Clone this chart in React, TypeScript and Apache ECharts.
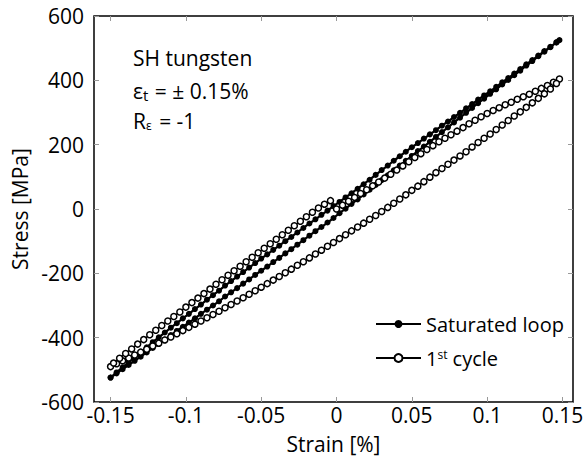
import React, { useEffect, useRef } from "react";
import * as echarts from "echarts";

// Strain [%], Stress [MPa]
const satUpper: number[][] = [
  [-0.150,-524],[-0.146,-508],[-0.142,-492],[-0.138,-476],[-0.134,-460],[-0.130,-445],[-0.126,-430],[-0.122,-414],
  [-0.118,-399],[-0.114,-384],[-0.110,-369],[-0.106,-355],[-0.102,-340],[-0.098,-326],[-0.094,-311],[-0.090,-297],
  [-0.086,-282],[-0.082,-268],[-0.078,-254],[-0.074,-238],[-0.070,-224],[-0.066,-210],[-0.062,-196],[-0.058,-182],
  [-0.054,-168],[-0.050,-154],[-0.046,-141],[-0.042,-127],[-0.038,-114],[-0.034,-100],[-0.030,-87],[-0.026,-73],
  [-0.022,-59],[-0.018,-45],[-0.014,-32],[-0.010,-18],[-0.006,-5],[-0.002,9],[0.002,22],[0.006,36],[0.010,49],
  [0.014,63],[0.018,77],[0.022,91],[0.026,106],[0.030,121],[0.034,135],[0.038,150],[0.042,164],[0.046,178],
  [0.050,192],[0.054,205],[0.058,219],[0.062,232],[0.066,245],[0.070,259],[0.074,272],[0.078,286],[0.082,299],
  [0.086,313],[0.090,326],[0.094,340],[0.098,353],[0.102,366],[0.106,380],[0.110,394],[0.114,407],[0.118,421],
  [0.122,435],[0.126,450],[0.130,463],[0.134,477],[0.138,491],[0.142,504],[0.146,518],[0.148,525],
];
const satLower: number[][] = [
  [0.146,518],[0.142,503],[0.138,489],[0.134,475],[0.130,460],[0.126,446],[0.122,430],[0.118,416],[0.114,401],
  [0.110,387],[0.106,372],[0.102,358],[0.098,343],[0.094,329],[0.090,314],[0.086,299],[0.082,284],[0.078,269],
  [0.074,254],[0.070,239],[0.066,224],[0.062,209],[0.058,194],[0.054,180],[0.050,165],[0.046,150],[0.042,135],
  [0.038,120],[0.034,105],[0.030,90],[0.026,75],[0.022,60],[0.018,45],[0.014,30],[0.010,16],[0.006,1],
  [0.002,-13],[-0.002,-28],[-0.006,-42],[-0.010,-56],[-0.014,-69],[-0.018,-83],[-0.022,-97],[-0.026,-111],
  [-0.030,-125],[-0.034,-138],[-0.038,-152],[-0.042,-165],[-0.046,-179],[-0.050,-192],[-0.054,-205],[-0.058,-219],
  [-0.062,-232],[-0.066,-246],[-0.070,-259],[-0.074,-272],[-0.078,-287],[-0.082,-300],[-0.086,-313],[-0.090,-326],
  [-0.094,-340],[-0.098,-353],[-0.102,-366],[-0.106,-379],[-0.110,-392],[-0.114,-406],[-0.118,-419],[-0.122,-432],
  [-0.126,-446],[-0.130,-459],[-0.134,-472],[-0.138,-485],[-0.142,-498],[-0.146,-511],[-0.150,-524],
];
const cycle1Load: number[][] = [
  [0.000,0],[0.004,12],[0.008,24],[0.012,36],[0.016,48],[0.020,60],[0.024,72],[0.028,84],[0.032,96],[0.036,108],
  [0.040,121],[0.044,134],[0.048,147],[0.052,160],[0.056,172],[0.060,185],[0.064,197],[0.068,209],[0.072,220],
  [0.076,231],[0.080,242],[0.084,253],[0.088,265],[0.092,276],[0.096,287],[0.100,297],[0.104,306],[0.108,315],
  [0.112,324],[0.116,332],[0.120,341],[0.124,349],[0.128,357],[0.132,366],[0.136,375],[0.140,384],[0.144,394],
  [0.148,404],
];
const cycle1Unload: number[][] = [
  [0.146,390],[0.142,373],[0.138,358],[0.134,344],[0.130,330],[0.126,316],[0.122,302],[0.118,289],[0.114,275],
  [0.110,261],[0.106,247],[0.102,233],[0.098,220],[0.094,207],[0.090,193],[0.086,178],[0.082,165],[0.078,152],
  [0.074,139],[0.070,126],[0.066,113],[0.062,99],[0.058,85],[0.054,71],[0.050,58],[0.046,44],[0.042,31],
  [0.038,18],[0.034,5],[0.030,-8],[0.026,-20],[0.022,-32],[0.018,-44],[0.014,-56],[0.010,-68],[0.006,-80],
  [0.002,-92],[-0.002,-104],[-0.006,-116],[-0.010,-128],[-0.014,-140],[-0.018,-152],[-0.022,-164],[-0.026,-175],
  [-0.030,-187],[-0.034,-198],[-0.038,-210],[-0.042,-221],[-0.046,-232],[-0.050,-243],[-0.054,-254],[-0.058,-265],
  [-0.062,-276],[-0.066,-286],[-0.070,-297],[-0.074,-307],[-0.078,-318],[-0.082,-328],[-0.086,-338],[-0.090,-348],
  [-0.094,-358],[-0.098,-368],[-0.102,-378],[-0.106,-388],[-0.110,-398],[-0.114,-407],[-0.118,-417],[-0.122,-426],
  [-0.126,-436],[-0.130,-445],[-0.134,-454],[-0.138,-463],[-0.142,-472],[-0.146,-481],[-0.150,-490],
];
const cycle1Reload: number[][] = [
  [-0.148,-479],[-0.144,-464],[-0.140,-449],[-0.136,-435],[-0.132,-420],[-0.128,-406],[-0.124,-391],[-0.120,-377],
  [-0.116,-362],[-0.112,-348],[-0.108,-334],[-0.104,-320],[-0.100,-305],[-0.096,-291],[-0.092,-277],[-0.088,-263],
  [-0.084,-249],[-0.080,-234],[-0.076,-220],[-0.072,-206],[-0.068,-192],[-0.064,-178],[-0.060,-164],[-0.056,-150],
  [-0.052,-136],[-0.048,-122],[-0.044,-108],[-0.040,-94],[-0.036,-80],[-0.032,-66],[-0.028,-52],[-0.024,-38],
  [-0.020,-24],[-0.016,-10],[-0.012,3],[-0.008,15],[-0.004,26],
];

const xTicks = [-0.15, -0.1, -0.05, 0, 0.05, 0.1, 0.15];
const seriesNames = ["Saturated loop", "1st cycle"];
const FONT = "Open Sans";
const FS = 21;

export default function App() {
  const ref = useRef<HTMLDivElement>(null);
  useEffect(() => {
    if (!ref.current) return;
    const chart = echarts.init(ref.current, undefined, { renderer: "svg" });
    const saturated = [...satUpper, ...satLower];
    const first = [...cycle1Load, ...cycle1Unload, ...cycle1Reload];
    const tickStyle = { color: "#999", width: 1 };
    const xCommon = {
      type: "value",
      min: -0.161,
      max: 0.157,
      axisLine: { show: false, onZero: false },
      splitLine: { show: false },
    };
    const yCommon = {
      type: "value",
      min: -600,
      max: 600,
      interval: 200,
      axisLine: { show: false, onZero: false },
      splitLine: { show: false },
    };
    chart.setOption({
      animation: false,
      backgroundColor: "#fff",
      textStyle: { fontFamily: FONT },
      grid: {
        left: 94, right: 14, top: 16, bottom: 62,
        show: true, borderColor: "#000", borderWidth: 1.5, backgroundColor: "transparent",
      },
      xAxis: [
        {
          ...xCommon,
          position: "bottom",
          axisTick: { show: true, inside: true, length: 5, lineStyle: tickStyle, customValues: xTicks },
          axisLabel: {
            customValues: xTicks, fontSize: FS, color: "#000", margin: 2, fontFamily: FONT,
            formatter: (v: number) => String(v),
          },
          name: "Strain [%]",
          nameLocation: "middle",
          nameGap: 31,
          nameTextStyle: { fontSize: FS, color: "#000", fontFamily: FONT },
        },
        {
          ...xCommon,
          position: "top",
          axisTick: { show: true, inside: true, length: 5, lineStyle: tickStyle, customValues: xTicks },
          axisLabel: { show: false },
        },
      ],
      yAxis: [
        {
          ...yCommon,
          position: "left",
          axisTick: { show: true, inside: true, length: 5, lineStyle: tickStyle },
          axisLabel: { fontSize: FS, color: "#000", margin: 10, fontFamily: FONT },
          name: "Stress [MPa]",
          nameLocation: "middle",
          nameGap: 62,
          nameTextStyle: { fontSize: FS, color: "#000", fontFamily: FONT },
        },
        {
          ...yCommon,
          position: "right",
          axisTick: { show: true, inside: true, length: 5, lineStyle: tickStyle },
          axisLabel: { show: false },
        },
      ],
      legend: {
        orient: "vertical",
        left: 370,
        top: 309,
        itemWidth: 45,
        itemHeight: 10,
        itemGap: 14,
        data: seriesNames,
        formatter: (n: string) => (n === "1st cycle" ? "1{sup|st} cycle" : n),
        textStyle: {
          fontSize: 20,
          color: "#000",
          fontFamily: FONT,
          rich: { sup: { fontSize: 12, verticalAlign: "top", fontFamily: FONT, color: "#000" } },
        },
      },
      graphic: [
        {
          type: "text", left: 133, top: 47,
          style: { text: "SH tungsten", fontSize: FS, fontFamily: FONT, fill: "#000" },
        },
        {
          type: "text", left: 133, top: 80,
          style: {
            text: "ε{sub|t} = ± 0.15%", fontSize: FS, fontFamily: FONT, fill: "#000",
            rich: { sub: { fontSize: 15, fontFamily: FONT, verticalAlign: "bottom", padding: [8, 1, 0, 0] } },
          },
        },
        {
          type: "text", left: 133, top: 110,
          style: {
            text: "R{sub|ε} = -1", fontSize: FS, fontFamily: FONT, fill: "#000",
            rich: { sub: { fontSize: 12, fontFamily: FONT, verticalAlign: "bottom", padding: [8, 2, 0, 0] } },
          },
        },
      ],
      series: [
        {
          name: seriesNames[0],
          type: "line",
          data: saturated,
          symbol: "circle",
          symbolSize: 6,
          showAllSymbol: true,
          lineStyle: { color: "#000", width: 2.2 },
          itemStyle: { color: "#000" },
          z: 2,
        },
        {
          name: seriesNames[1],
          type: "line",
          data: first,
          symbol: "circle",
          symbolSize: 6,
          showAllSymbol: true,
          lineStyle: { color: "#000", width: 1.5 },
          itemStyle: { color: "#fff", borderColor: "#000", borderWidth: 1.5 },
          z: 3,
        },
      ],
    });
    return () => chart.dispose();
  }, []);
  return (
    <div
      ref={ref}
      style={{ position: "fixed", left: 0, top: 0, width: 587, height: 464, background: "#fff" }}
    />
  );
}
